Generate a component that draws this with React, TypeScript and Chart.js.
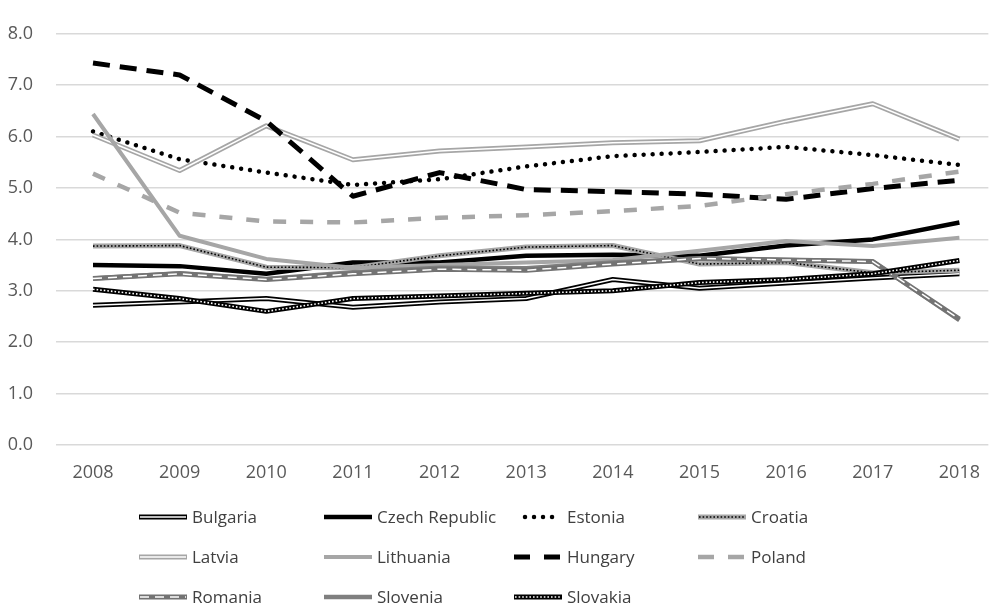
import React, { useEffect, useRef } from "react";
import { Chart, registerables } from "chart.js";

Chart.register(...registerables);

const years = [2008, 2009, 2010, 2011, 2012, 2013, 2014, 2015, 2016, 2017, 2018];
const yTicks = [0, 1, 2, 3, 4, 5, 6, 7, 8];

const bulgaria = [2.72, 2.78, 2.85, 2.68, 2.78, 2.85, 3.22, 3.05, 3.15, 3.25, 3.33];
const czechRepublic = [3.5, 3.48, 3.33, 3.55, 3.55, 3.68, 3.7, 3.68, 3.88, 4.0, 4.33];
const estonia = [6.1, 5.56, 5.3, 5.06, 5.17, 5.42, 5.62, 5.7, 5.8, 5.64, 5.45];
const croatia = [3.87, 3.88, 3.46, 3.45, 3.68, 3.85, 3.88, 3.52, 3.55, 3.35, 3.4];
const latvia = [6.03, 5.34, 6.21, 5.55, 5.72, 5.8, 5.88, 5.92, 6.3, 6.64, 5.95];
const lithuania = [6.44, 4.07, 3.62, 3.45, 3.5, 3.55, 3.6, 3.78, 3.97, 3.87, 4.03];
const hungary = [7.43, 7.2, 6.3, 4.84, 5.3, 4.97, 4.93, 4.88, 4.78, 4.99, 5.15];
const poland = [5.28, 4.52, 4.35, 4.33, 4.42, 4.47, 4.55, 4.65, 4.88, 5.08, 5.32];
const romania = [3.24, 3.33, 3.22, 3.33, 3.42, 3.4, 3.52, 3.63, 3.6, 3.57, 2.45];
const slovenia = [3.24, 3.34, 3.23, 3.36, 3.45, 3.44, 3.55, 3.63, 3.6, 3.57, 2.43];
const slovakia = [3.03, 2.85, 2.6, 2.85, 2.9, 2.95, 3.0, 3.16, 3.22, 3.33, 3.59];

type Inner = { color: string; width: number; dash: number[]; cap?: CanvasLineCap };
type Series = {
  label: string;
  values: number[];
  color: string;
  width: number;
  dash: number[];
  cap: CanvasLineCap;
  inner?: Inner;
  z: number;
};

const BLACK = "#000000";
const GRAY = "#a6a6a6";
const DARK = "#737373";

// z: higher is drawn on top
const series: Series[] = [
  { label: "Bulgaria", values: bulgaria, color: BLACK, width: 5, dash: [], cap: "butt", inner: { color: "#ffffff", width: 1.5, dash: [] }, z: 1 },
  { label: "Czech Republic", values: czechRepublic, color: BLACK, width: 4.5, dash: [], cap: "butt", z: 2 },
  { label: "Estonia", values: estonia, color: BLACK, width: 4.5, dash: [0.01, 9], cap: "round", z: 3 },
  { label: "Croatia", values: croatia, color: GRAY, width: 5, dash: [], cap: "butt", inner: { color: "#000000", width: 1.6, dash: [1.6, 2] }, z: 4 },
  { label: "Latvia", values: latvia, color: GRAY, width: 5, dash: [], cap: "butt", inner: { color: "#ffffff", width: 1.5, dash: [] }, z: 5 },
  { label: "Lithuania", values: lithuania, color: GRAY, width: 4, dash: [], cap: "butt", z: 6 },
  { label: "Hungary", values: hungary, color: BLACK, width: 5, dash: [17, 10], cap: "butt", z: 7 },
  { label: "Poland", values: poland, color: GRAY, width: 4.5, dash: [13, 14], cap: "butt", z: 8 },
  { label: "Romania", values: romania, color: DARK, width: 5, dash: [], cap: "butt", inner: { color: "#ffffff", width: 1.5, dash: [9, 6] }, z: 10 },
  { label: "Slovenia", values: slovenia, color: "#7f7f7f", width: 4.5, dash: [], cap: "butt", z: 9 },
  { label: "Slovakia", values: slovakia, color: BLACK, width: 5, dash: [], cap: "butt", inner: { color: "#ffffff", width: 1.6, dash: [1.6, 2] }, z: 11 },
];

const FONT = "'Open Sans', sans-serif";

const innerLinePlugin = {
  id: "innerLine",
  afterDatasetDraw(chart: any, args: any) {
    const ds = chart.data.datasets[args.index];
    const inner: Inner | undefined = ds.inner;
    if (!inner) return;
    const pts = args.meta.data;
    const ctx = chart.ctx as CanvasRenderingContext2D;
    ctx.save();
    ctx.beginPath();
    pts.forEach((p: any, i: number) => {
      if (i === 0) ctx.moveTo(p.x, p.y);
      else ctx.lineTo(p.x, p.y);
    });
    ctx.strokeStyle = inner.color;
    ctx.lineWidth = inner.width;
    ctx.setLineDash(inner.dash);
    ctx.lineJoin = "round";
    ctx.lineCap = inner.cap || "butt";
    ctx.stroke();
    ctx.restore();
  },
};

const legendCols = [139, 324, 514, 698];
const legendRows = [517, 557, 597];
const SWATCH = 48;

const customLegendPlugin = {
  id: "customLegend",
  afterDraw(chart: any) {
    const ctx = chart.ctx as CanvasRenderingContext2D;
    series.forEach((s, i) => {
      const col = i % 4;
      const row = Math.floor(i / 4);
      const x0 = legendCols[col];
      const y = legendRows[row];
      const x1 = x0 + SWATCH;
      const isEst = s.label === "Estonia";
      const isDash = s.label === "Hungary" || s.label === "Poland";
      ctx.save();
      ctx.beginPath();
      ctx.moveTo(isEst ? x0 + 11 : x0, y);
      ctx.lineTo(isEst ? x1 - 9 : x1, y);
      ctx.strokeStyle = s.color;
      ctx.lineWidth = s.width;
      ctx.lineCap = s.cap;
      ctx.setLineDash(isDash ? [16, 14] : s.dash);
      ctx.stroke();
      if (s.inner) {
        ctx.beginPath();
        ctx.moveTo(x0 + 1, y);
        ctx.lineTo(x1 - 1, y);
        ctx.strokeStyle = s.inner.color;
        ctx.lineWidth = s.inner.width;
        ctx.lineCap = "butt";
        ctx.setLineDash(s.inner.dash);
        ctx.stroke();
      }
      ctx.restore();
      ctx.save();
      ctx.fillStyle = "#404040";
      ctx.font = `17px ${FONT}`;
      ctx.textAlign = "left";
      ctx.textBaseline = "middle";
      ctx.fillText(s.label, x1 + 5, y + 1);
      ctx.restore();
    });
  },
};

export default function App() {
  const ref = useRef<HTMLCanvasElement | null>(null);

  useEffect(() => {
    if (!ref.current) return;
    const chart = new Chart(ref.current, {
      type: "line",
      data: {
        datasets: series.map((s) => ({
          label: s.label,
          data: s.values.map((v, k) => ({ x: years[k], y: v })),
          borderColor: s.color,
          backgroundColor: s.color,
          borderWidth: s.width,
          borderDash: s.dash,
          borderCapStyle: s.cap,
          borderJoinStyle: "round",
          pointRadius: 0,
          tension: 0,
          fill: false,
          order: 100 - s.z,
          inner: s.inner,
        })) as any,
      },
      options: {
        animation: false,
        responsive: false,
        devicePixelRatio: 1,
        layout: { padding: { top: 15, left: 0, right: 0, bottom: 0 } },
        plugins: {
          legend: { display: false },
          tooltip: { enabled: false },
        },
        scales: {
          x: {
            type: "linear",
            min: 2007.573,
            max: 2018.334,
            grid: { display: false },
            border: { display: false },
            afterFit(scale: any) {
              scale.height = 163;
            },
            afterBuildTicks(scale: any) {
              scale.ticks = years.map((v) => ({ value: v }));
            },
            ticks: {
              padding: 9,
              color: "#595959",
              font: { family: FONT, size: 18 },
              callback: (v: any) => String(v),
              maxRotation: 0,
              autoSkip: false,
            },
          },
          y: {
            min: 0,
            max: 8,
            grid: { color: "#d9d9d9", lineWidth: 1.5, drawTicks: false },
            border: { display: false },
            afterFit(scale: any) {
              scale.width = 56;
            },
            afterBuildTicks(scale: any) {
              scale.ticks = yTicks.map((v) => ({ value: v }));
            },
            ticks: {
              padding: 23,
              color: "#595959",
              font: { family: FONT, size: 18 },
              callback: (v: any) => Number(v).toFixed(1),
            },
          },
        },
      },
      plugins: [innerLinePlugin, customLegendPlugin],
    });
    return () => chart.destroy();
  }, []);

  return (
    <div style={{ position: "absolute", left: 0, top: 0, width: 989, height: 608, background: "#ffffff" }}>
      <canvas ref={ref} width={989} height={608} style={{ width: 989, height: 608, display: "block" }} />
    </div>
  );
}
